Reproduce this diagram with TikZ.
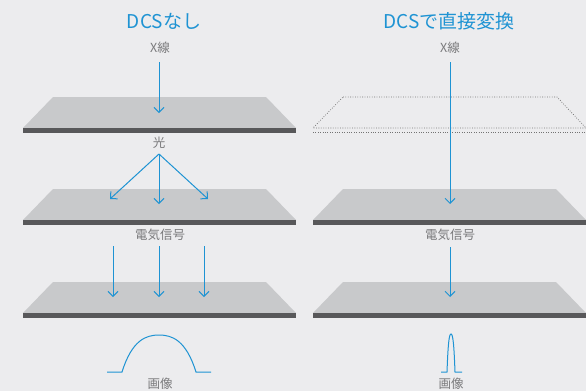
\documentclass[tikz,border=0pt]{standalone}
\usepackage{fontspec}
\newfontfamily\jp{Noto Sans CJK JP}
\usetikzlibrary{arrows.meta}
\definecolor{bg}{HTML}{ECECEE}
\definecolor{plate}{HTML}{C8C9CB}
\definecolor{band}{HTML}{58585A}
\definecolor{myblue}{HTML}{1E93D3}
\definecolor{lbl}{HTML}{7A7A7C}
\tikzset{
  title/.style={font=\jp\fontsize{19}{19}\selectfont, text=myblue, inner sep=0pt},
  lab/.style={font=\jp\fontsize{12.5}{13}\selectfont, text=lbl, inner sep=1pt},
  ray/.style={draw=myblue, line width=1pt, -{Straight Barb[length=5pt,width=10pt,line width=1pt]}},
  wave/.style={draw=myblue, line width=1pt},
  dotline/.style={draw=black!55, line width=0.7pt, dash pattern=on 0.8pt off 1.6pt},
}
\newcommand{\plate}[2]{% x-offset, top y
  \fill[plate] (#1+53,#2) -- (#1+266,#2) -- (#1+296,#2+31) -- (#1+23,#2+31) -- cycle;
  \fill[band] (#1+23,#2+31) rectangle (#1+296,#2+36);
}
\begin{document}
\begin{tikzpicture}[x=1pt,y=-1pt]
\fill[bg] (0,0) rectangle (586,391);
\useasboundingbox (0,0) rectangle (586,391);
% plates
\plate{0}{97}
\plate{0}{189}
\plate{0}{282}
\plate{290}{189}
\plate{290}{282}
% dotted plate
\draw[dotline] (343,97) -- (557,97) -- (586,128) -- (313,128) -- cycle;
\draw[dotline] (313,132) -- (586,132);
% titles
\node[title] (t1) at (164,21) {DCSなし};
\node[title] (t2) at (449,21) {DCSで直接変換};
% labels
\node[lab] (x1) at (160,48) {X線};
\node[lab] (x2) at (450,48) {X線};
\node[lab] (h1) at (159,143) {光};
\node[lab] (e1) at (160,235) {電気信号};
\node[lab] (e2) at (450,235) {電気信号};
\node[lab] (g1) at (160,384) {画像};
\node[lab] (g2) at (451,384) {画像};
% coordinates
\coordinate (a0) at (159,62);
\coordinate (a1) at (159,113);
\coordinate (hs) at (159,154);
\coordinate (b1) at (110,199);
\coordinate (b2) at (159,204);
\coordinate (b3) at (208,199);
\coordinate (s1) at (113,246);
\coordinate (s2) at (159,246);
\coordinate (s3) at (204,246);
\coordinate (d1) at (113,297);
\coordinate (d2) at (159,297);
\coordinate (d3) at (204,297);
\coordinate (r0) at (450,62);
\coordinate (r1) at (450,204);
\coordinate (q0) at (450,247);
\coordinate (r2) at (450,297);
% rays left
\draw[ray] (a0) -- (a1);
\draw[ray] (hs) -- (b1);
\draw[ray] (hs) -- (b2);
\draw[ray] (hs) -- (b3);
\draw[ray] (s1) -- (d1);
\draw[ray] (s2) -- (d2);
\draw[ray] (s3) -- (d3);
% rays right
\draw[ray] (r0) -- (r1);
\draw[ray] (q0) -- (r2);
% waves
\draw[wave] (107,372) -- (122,372) .. controls (132,340) and (146,335) .. (159,335)
  .. controls (172,335) and (186,340) .. (196,372) -- (211,372);
\draw[wave] (441,372) -- (447,372) .. controls (448,345) and (449,334) .. (451,334)
  .. controls (453,334) and (454,345) .. (455,372) -- (462,372);
\end{tikzpicture}
\end{document}
